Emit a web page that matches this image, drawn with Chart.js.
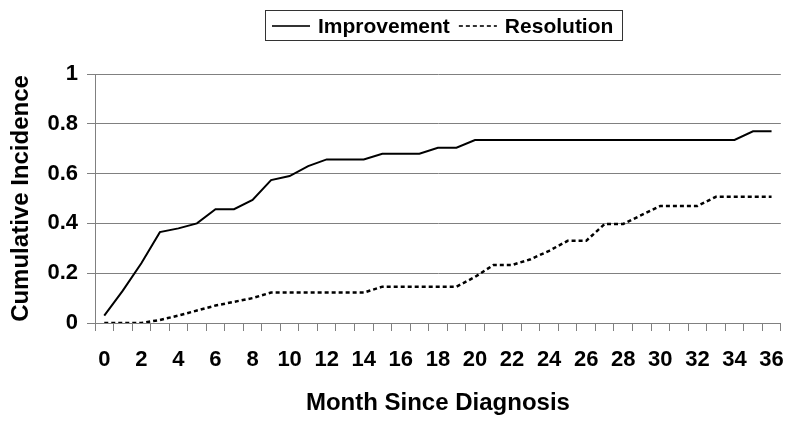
<!DOCTYPE html>
<html>
<head>
<meta charset="utf-8">
<script src="https://cdn.jsdelivr.net/npm/chart.js@4"></script>
<style>
  html, body { margin: 0; padding: 0; background: #fff; }
  #wrap { width: 800px; height: 422px; }
</style>
</head>
<body>
<div id="wrap"><canvas id="myChart" width="800" height="422"></canvas></div>
<script>
const months = [];
for (let m = 0; m <= 36; m++) months.push(String(m));

const improvement = [0.03, 0.13, 0.24, 0.365, 0.38, 0.40, 0.457, 0.457, 0.494, 0.574,
    0.59, 0.63, 0.657, 0.657, 0.657, 0.68, 0.68, 0.68, 0.704, 0.704,
    0.735, 0.735, 0.735, 0.735, 0.735, 0.735, 0.735, 0.735, 0.735, 0.735,
    0.735, 0.735, 0.735, 0.735, 0.735, 0.77, 0.77];

const resolution = [0, 0, 0, 0.012, 0.03, 0.05, 0.07, 0.085, 0.10, 0.122,
    0.122, 0.122, 0.122, 0.122, 0.122, 0.146, 0.146, 0.146, 0.146, 0.146,
    0.185, 0.233, 0.233, 0.256, 0.29, 0.33, 0.33, 0.398, 0.398, 0.434,
    0.47, 0.47, 0.47, 0.507, 0.507, 0.507, 0.507];

const yTicks = [0, 0.2, 0.4, 0.6, 0.8, 1];

const FONT = 'Liberation Sans, Arial, sans-serif';

// legend drawn by hand so the box and the dashed sample look like the original
const boxLegend = {
    id: 'boxLegend',
    afterDraw(chart) {
        const ctx = chart.ctx;
        const ds = chart.data.datasets;
        ctx.save();
        ctx.strokeStyle = '#333';
        ctx.lineWidth = 1;
        ctx.strokeRect(265.5, 10.5, 357, 30);
        ctx.font = 'bold 21px ' + FONT;
        ctx.textBaseline = 'middle';
        ctx.fillStyle = '#000';
        let x = 272;
        const y = 26;
        ds.forEach(d => {
            ctx.beginPath();
            ctx.lineWidth = 2;
            ctx.setLineDash(d.borderDash || []);
            ctx.moveTo(x, y);
            ctx.lineTo(x + 38, y);
            ctx.stroke();
            ctx.setLineDash([]);
            ctx.fillText(d.label, x + 46, y + 1);
            x += 46 + ctx.measureText(d.label).width + 9;
        });
        ctx.restore();
    }
};

const ctx = document.getElementById('myChart').getContext('2d');
new Chart(ctx, {
    type: 'line',
    data: {
        labels: months,
        datasets: [{
            label: 'Improvement',
            data: improvement,
            borderColor: '#000',
            borderWidth: 2,
            pointRadius: 0,
            tension: 0,
            fill: false
        }, {
            label: 'Resolution',
            data: resolution,
            borderColor: '#000',
            borderWidth: 2.5,
            borderDash: [4, 3],
            pointRadius: 0,
            tension: 0,
            fill: false
        }]
    },
    options: {
        responsive: false,
        animation: false,
        layout: { padding: { top: 74, right: 16, left: 0, bottom: 0 } },
        plugins: {
            legend: { display: false },
            tooltip: { enabled: false }
        },
        scales: {
            x: {
                offset: true,
                afterFit: s => { s.height = 99; },
                grid: {
                    offset: true,
                    drawOnChartArea: false,
                    drawTicks: true,
                    tickLength: 8,
                    color: '#808080'
                },
                border: { color: '#808080', width: 1 },
                ticks: {
                    autoSkip: false,
                    maxRotation: 0,
                    padding: 16,
                    color: '#000',
                    font: { family: FONT, size: 22, weight: 'bold' },
                    callback: function(v, i) { return i % 2 === 0 ? this.getLabelForValue(v) : ''; }
                },
                title: {
                    display: true,
                    text: 'Month Since Diagnosis',
                    color: '#000',
                    font: { family: FONT, size: 24, weight: 'bold' },
                    padding: { top: 0, bottom: 4 }
                }
            },
            y: {
                min: 0,
                max: 1,
                afterFit: s => { s.width = 95; },
                afterBuildTicks: s => { s.ticks = yTicks.map(v => ({ value: v })); },
                grid: {
                    color: '#808080',
                    lineWidth: 1,
                    tickLength: 8
                },
                border: { color: '#808080', width: 1 },
                ticks: {
                    padding: 9,
                    color: '#000',
                    font: { family: FONT, size: 22, weight: 'bold' },
                    callback: v => (v === 0 || v === 1) ? String(v) : v.toFixed(1)
                },
                title: {
                    display: true,
                    text: 'Cumulative Incidence',
                    color: '#000',
                    font: { family: FONT, size: 24, weight: 'bold' },
                    padding: { top: 7, bottom: 0 }
                }
            }
        }
    },
    plugins: [boxLegend]
});
</script>
</body>
</html>
